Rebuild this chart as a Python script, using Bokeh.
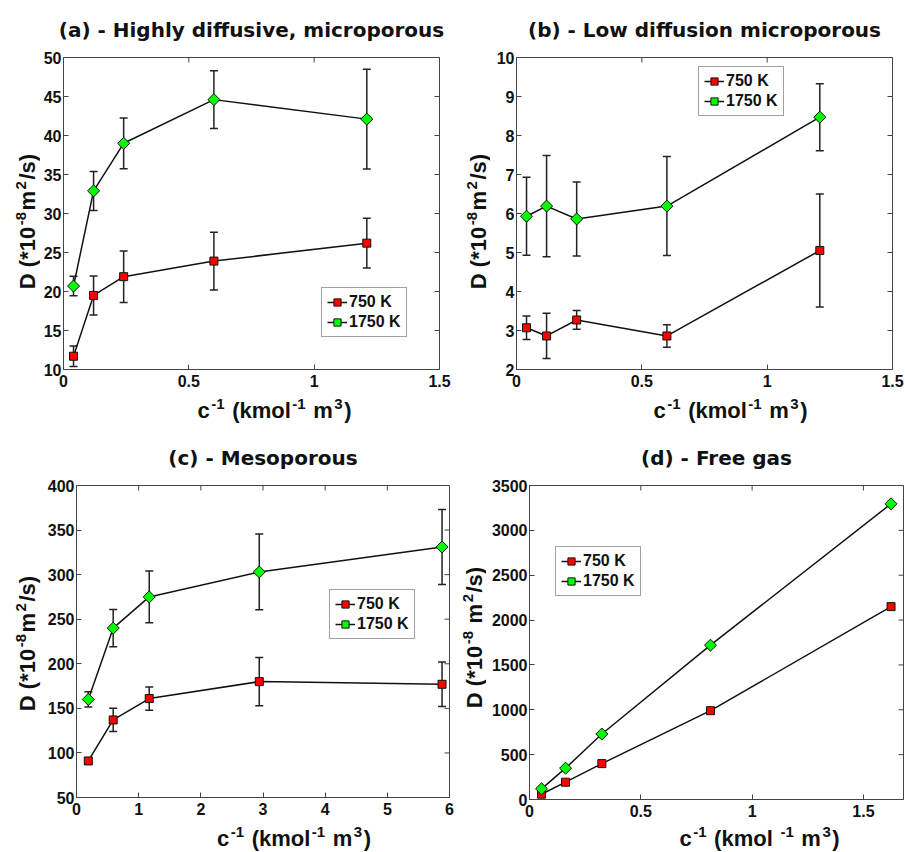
import numpy as np
from bokeh.plotting import figure
from bokeh.models import (Whisker, TeeHead, ColumnDataSource, Range1d, FixedTicker,
                          NumeralTickFormatter, Legend, LegendItem, Label)
from bokeh.layouts import column, row
from bokeh.embed import file_html
from bokeh.resources import INLINE

# ---- data ----
x_ab = [0.04, 0.12, 0.24, 0.60, 1.21]
a_750 = [11.7, 19.5, 21.9, 23.9, 26.2]
a_750_err = [1.3, 2.5, 3.3, 3.7, 3.2]
a_1750 = [20.7, 32.9, 39.0, 44.6, 42.1]
a_1750_err = [1.25, 2.5, 3.25, 3.7, 6.4]

b_750 = [3.07, 2.86, 3.27, 2.86, 5.05]
b_750_err = [0.3, 0.58, 0.24, 0.29, 1.45]
b_1750 = [5.93, 6.19, 5.86, 6.19, 8.47]
b_1750_err = [1.0, 1.3, 0.95, 1.27, 0.86]

x_c = [0.19, 0.59, 1.17, 2.94, 5.88]
c_750 = [91, 137, 161, 180, 177]
c_750_err = [3, 13, 13, 27, 25]
c_1750 = [160, 240, 275, 303, 331]
c_1750_err = [8.5, 21, 29, 42.5, 42]

x_d = [0.054, 0.162, 0.325, 0.813, 1.624]
d_750 = [59, 193, 400, 990, 2150]
d_1750 = [119, 349, 730, 1720, 3296]

series_labels = ["750 K", "1750 K"]

# axis label pieces: (text, is_superscript)
xlabel_parts = [("c", 0), ("-1", 1), (" (kmol", 0), ("-1", 1), (" m", 0), ("3", 1), (")", 0)]
xlabel_parts_d = [("c", 0), ("-1", 1), (" (kmol ", 0), ("-1", 1), (" m", 0), ("3", 1), (")", 0)]
ylabel_parts = [("D (*10", 0), ("-8", 1), ("m", 0), ("2", 1), ("/s)", 0)]
ylabel_parts_d = [("D (*10", 0), ("-8", 1), (" m", 0), ("2", 1), ("/s)", 0)]

TICK_FONT = "Liberation Sans"
TITLE_FONT = "DejaVu Sans"
INK = "#111111"
FRAME = "#444444"
BASE_PX = 22
SUP_PX = 15
RAISE = 9
SUP_GAP = 1.5
MID = 0.33  # distance from alphabetic baseline to the "middle" anchor, in em

# Arial/Liberation Sans Bold advance widths (per 1000 em)
ADV = {' ': 278, '(': 333, ')': 333, '*': 389, '-': 333, '/': 278, 'D': 722, 'c': 556,
       'k': 556, 'm': 889, 'o': 611, 'l': 278, 's': 556}


def text_w(s, px):
    return sum(ADV.get(ch, 556) for ch in s) * px / 1000.0


def piece_w(t, sup):
    return text_w(t, SUP_PX) + 2 * SUP_GAP if sup else text_w(t, BASE_PX)


def label_fig(width, height, parts, center, base, vertical):
    """A bare canvas (no axes) that carries an axis title with real superscripts."""
    f = figure(width=width, height=height, output_backend="svg", toolbar_location=None,
               x_range=Range1d(0, 1), y_range=Range1d(0, 1), title=None,
               x_axis_location=None, y_axis_location=None,
               min_border=0, min_border_left=0, min_border_right=0,
               min_border_top=0, min_border_bottom=0,
               outline_line_color=None, background_fill_color="white",
               border_fill_color="white")
    f.grid.visible = False
    total = sum(piece_w(t, s) for t, s in parts)
    pos = center - total / 2.0
    for t, sup in parts:
        px = SUP_PX if sup else BASE_PX
        core = t.strip(" ")
        lead = len(t) - len(t.lstrip(" "))
        start = pos + (SUP_GAP if sup else 0) + text_w(" " * lead, px)
        lift = (RAISE if sup else 0) + MID * px
        if vertical:
            x, y, ang = base - lift, start, np.pi / 2
        else:
            x, y, ang = start, base + lift, 0
        f.add_layout(Label(x=x, y=y, x_units="screen", y_units="screen", text=core, angle=ang,
                           text_font=TICK_FONT, text_font_size=f"{px}px",
                           text_font_style="bold", text_color=INK,
                           text_align="left", text_baseline="middle"))
        pos += piece_w(t, sup)
    return f


def make_panel(title, x, y1, e1, y2, e2, xr, yr, xticks, yticks,
               width, height, bl, br, bt, bb, legend_loc):
    p = figure(width=width, height=height, output_backend="svg", toolbar_location=None,
               x_range=Range1d(*xr), y_range=Range1d(*yr),
               min_border_left=bl, min_border_right=br, min_border_top=bt, min_border_bottom=bb,
               background_fill_color="white", border_fill_color="white")
    p.grid.visible = False
    p.outline_line_color = FRAME
    p.outline_line_width = 1
    p.title.text = title
    p.title.align = "center"
    p.title.text_font = TITLE_FONT
    p.title.text_font_size = "20px"
    p.title.text_font_style = "bold"
    p.title.text_color = INK
    p.title.standoff = 31

    for ax in (p.xaxis[0], p.yaxis[0]):
        ax.major_label_text_font = TICK_FONT
        ax.major_label_text_font_size = "16px"
        ax.major_label_text_font_style = "bold"
        ax.major_label_text_color = INK
        ax.major_tick_in = 5
        ax.major_tick_out = 0
        ax.minor_tick_line_color = None
        ax.axis_line_color = FRAME
        ax.major_tick_line_color = FRAME
    p.xaxis[0].major_label_standoff = 5
    p.yaxis[0].major_label_standoff = 2
    p.xaxis[0].ticker = FixedTicker(ticks=xticks)
    p.yaxis[0].ticker = FixedTicker(ticks=yticks)
    p.xaxis[0].formatter = NumeralTickFormatter(format="0.[0]")
    p.yaxis[0].formatter = NumeralTickFormatter(format="0.[0]")

    # mirrored tick marks on the top and right edges (half clipped by the frame)
    p.scatter([xr[1]] * len(yticks), yticks, marker="dash", size=10, line_color=FRAME, line_width=1)
    p.scatter(xticks, [yr[1]] * len(xticks), marker="dash", size=10, angle=np.pi / 2,
              line_color=FRAME, line_width=1)

    items = []
    styles = [("square", 8, 0.0, "#ff0000"), ("square", 8.5, np.pi / 4, "#00ff00")]
    for (yv, ev), (mk, sz, ang, col), lab in zip(((y1, e1), (y2, e2)), styles, series_labels):
        if ev is not None:
            src = ColumnDataSource(dict(x=x, lo=[a - b for a, b in zip(yv, ev)],
                                        hi=[a + b for a, b in zip(yv, ev)]))
            w = Whisker(base="x", lower="lo", upper="hi", source=src, dimension="height",
                        line_color="#222222", line_width=1.5, level="underlay",
                        upper_head=TeeHead(size=8, line_color="#222222", line_width=1.5),
                        lower_head=TeeHead(size=8, line_color="#222222", line_width=1.5))
            p.add_layout(w)
        ln = p.line(x, yv, line_color=INK, line_width=1.5)
        sc = p.scatter(x, yv, marker=mk, size=sz, angle=ang, fill_color=col,
                       line_color=INK, line_width=1)
        items.append(LegendItem(label=lab, renderers=[ln, sc]))

    leg = Legend(items=items, location=legend_loc, label_text_font=TICK_FONT,
                 label_text_font_size="16px", label_text_font_style="bold",
                 label_text_color=INK, glyph_width=20, glyph_height=18,
                 label_standoff=2, padding=5, spacing=2, margin=0,
                 border_line_color=FRAME, border_line_width=1,
                 background_fill_color="white", label_height=18)
    p.add_layout(leg, "center")
    return p


# target frames (screen px): a 63..439 x 57..369 ; b 516..892 x 57..369 ;
#                            c 74..449 x 484..797 ; d 529..903 x 484..799
pa = make_panel("(a) - Highly diffusive, microporous", x_ab, a_750, a_750_err, a_1750, a_1750_err,
                (0, 1.5), (10, 50), [0, 0.5, 1, 1.5], list(range(10, 51, 5)),
                420, 392, 23, 21, 57, 23, (258, 32))
pb = make_panel("(b) - Low diffusion microporous", x_ab, b_750, b_750_err, b_1750, b_1750_err,
                (0, 1.5), (2, 10), [0, 0.5, 1, 1.5], list(range(2, 11)),
                415, 392, 26, 13, 57, 23, (182, 253))
pc = make_panel("(c) - Mesoporous", x_c, c_750, c_750_err, c_1750, c_1750_err,
                (0, 6), (50, 400), list(range(0, 7)), list(range(50, 401, 50)),
                414, 391, 30, 9, 56, 22, (253, 158))
pd = make_panel("(d) - Free gas", x_d, d_750, None, d_1750, None,
                (0, 1.68), (0, 3500), [0, 0.5, 1, 1.5], list(range(0, 3501, 500)),
                419, 391, 43, 2, 56, 20, (26, 203))

ya = label_fig(40, 428, ylabel_parts, 207, 34, True)
yb = label_fig(30, 428, ylabel_parts, 207, 25, True)
yc = label_fig(44, 424, ylabel_parts, 209, 34, True)
yd = label_fig(28, 424, ylabel_parts_d, 215, 23, True)
xa = label_fig(420, 36, xlabel_parts, 211, 11, False)
xb = label_fig(415, 36, xlabel_parts, 214, 11, False)
xc = label_fig(414, 33, xlabel_parts, 217.5, 7, False)
xd = label_fig(419, 33, xlabel_parts_d, 230, 7, False)

layout = column(
    row(ya, column(pa, xa), yb, column(pb, xb)),
    row(yc, column(pc, xc), yd, column(pd, xd)),
)
open("out.html", "w").write(file_html(layout, INLINE))
